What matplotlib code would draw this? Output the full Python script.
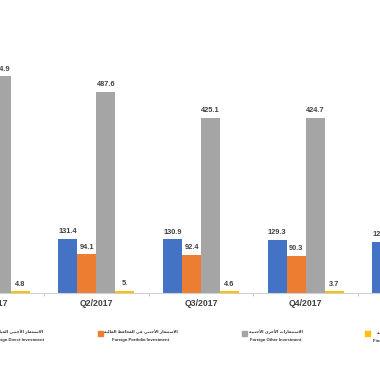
import numpy as np
import matplotlib
matplotlib.use('Agg')
import matplotlib.pyplot as plt
from matplotlib.patches import Rectangle

# Data (the outer groups are only partly visible)
quarters = ['Q1/2017', 'Q2/2017', 'Q3/2017', 'Q4/2017', 'Q1/2018']
direct = [133.2, 131.4, 130.9, 129.3, 124.3]
portfolio = [95.7, 94.1, 92.4, 90.3, 88.5]
other = [524.9, 487.6, 425.1, 424.7, 430.2]
derivatives = [4.8, 5.0, 4.6, 3.7, 3.9]
derivative_labels = ['4.8', '5.', '4.6', '3.7', '3.9']

names_ar = ['الاستثمار الأجنبي المباشر',
            'الاستثمار الأجنبي في المحافظ المالية',
            'الاستثمارات الأخرى الأجنبية',
            'المشتقات المالية']
names_en = ['Foreign Direct Investment',
            'Foreign Portfolio Investment',
            'Foreign Other Investment',
            'Financial Derivatives']
colors = ['#4472C4', '#ED7D31', '#A5A5A5', '#FFC000']

# --- minimal arabic shaping (matplotlib has no text shaping) ---
# letter: (isolated, final, initial, medial)
FORMS = {
    'ا': (0xFE8D, 0xFE8E, None, None), 'أ': (0xFE83, 0xFE84, None, None),
    'إ': (0xFE87, 0xFE88, None, None), 'آ': (0xFE81, 0xFE82, None, None),
    'ب': (0xFE8F, 0xFE90, 0xFE91, 0xFE92), 'ة': (0xFE93, 0xFE94, None, None),
    'ت': (0xFE95, 0xFE96, 0xFE97, 0xFE98), 'ث': (0xFE99, 0xFE9A, 0xFE9B, 0xFE9C),
    'ج': (0xFE9D, 0xFE9E, 0xFE9F, 0xFEA0), 'ح': (0xFEA1, 0xFEA2, 0xFEA3, 0xFEA4),
    'خ': (0xFEA5, 0xFEA6, 0xFEA7, 0xFEA8), 'د': (0xFEA9, 0xFEAA, None, None),
    'ر': (0xFEAD, 0xFEAE, None, None), 'س': (0xFEB1, 0xFEB2, 0xFEB3, 0xFEB4),
    'ش': (0xFEB5, 0xFEB6, 0xFEB7, 0xFEB8), 'ظ': (0xFEC5, 0xFEC6, 0xFEC7, 0xFEC8),
    'ف': (0xFED1, 0xFED2, 0xFED3, 0xFED4), 'ق': (0xFED5, 0xFED6, 0xFED7, 0xFED8),
    'ل': (0xFEDD, 0xFEDE, 0xFEDF, 0xFEE0), 'م': (0xFEE1, 0xFEE2, 0xFEE3, 0xFEE4),
    'ن': (0xFEE5, 0xFEE6, 0xFEE7, 0xFEE8), 'ه': (0xFEE9, 0xFEEA, 0xFEEB, 0xFEEC),
    'و': (0xFEED, 0xFEEE, None, None), 'ى': (0xFEEF, 0xFEF0, None, None),
    'ي': (0xFEF1, 0xFEF2, 0xFEF3, 0xFEF4),
}
LAM_ALEF = {'ا': (0xFEFB, 0xFEFC), 'أ': (0xFEF7, 0xFEF8),
            'إ': (0xFEF9, 0xFEFA), 'آ': (0xFEF5, 0xFEF6)}


def shape_ar(text):
    units = []
    i = 0
    while i < len(text):
        c = text[i]
        if c == 'ل' and i + 1 < len(text) and text[i + 1] in LAM_ALEF:
            units.append(('LA', text[i + 1]))
            i += 2
        else:
            units.append(c)
            i += 1

    def joins_next(u):
        return isinstance(u, str) and u in FORMS and FORMS[u][2] is not None

    def is_letter(u):
        return isinstance(u, tuple) or u in FORMS

    out = []
    for k, u in enumerate(units):
        prev = units[k - 1] if k > 0 else None
        nxt = units[k + 1] if k + 1 < len(units) else None
        jp = prev is not None and joins_next(prev)
        if isinstance(u, tuple):
            out.append(chr(LAM_ALEF[u[1]][1 if jp else 0]))
            continue
        if u not in FORMS:
            out.append(u)
            continue
        iso, fin, ini, med = FORMS[u]
        jn = ini is not None and nxt is not None and is_letter(nxt)
        if jp and jn:
            out.append(chr(med))
        elif jp:
            out.append(chr(fin))
        elif jn:
            out.append(chr(ini))
        else:
            out.append(chr(iso))
    return ''.join(reversed(out))


fig = plt.figure(figsize=(3.8, 3.72), dpi=100)
# the picture is a crop of a wider chart: the axes run past both figure edges
px0, px_step = -8.3, 104.7      # pixel x of the first group, pixels per group
xlo, xhi = -0.5, 4.5
ax_left = px0 + xlo * px_step
ax_width = (xhi - xlo) * px_step
ax = fig.add_axes([ax_left / 380, 79 / 372, ax_width / 380, 293 / 372])

x = np.arange(len(quarters))
bw = 0.1815
series = [direct, portfolio, other, derivatives]
lab_color = '#404040'
for k, vals in enumerate(series):
    pos = x + (k - 1.5) * bw
    ax.bar(pos, vals, width=bw, color=colors[k], zorder=2)
    for j, (p, v) in enumerate(zip(pos, vals)):
        txt = derivative_labels[j] if k == 3 else f'{v:.1f}'
        ax.annotate(txt, (p, v), xytext=(0, 2.5), textcoords='offset points',
                    ha='center', va='bottom', fontsize=5.3, fontweight='bold',
                    color=lab_color, family='Liberation Sans', annotation_clip=False)

for s in ['top', 'left', 'right']:
    ax.spines[s].set_visible(False)
ax.spines['bottom'].set_color('#d0d0d0')
ax.spines['bottom'].set_linewidth(0.8)
ax.set_yticks([])
ax.set_xticks(x[:-1] + 0.5)
ax.set_xticklabels([])
ax.tick_params(axis='x', which='major', length=2, color='#c0c0c0', width=0.6)
ax.set_xticks(x, minor=True)
ax.set_xticklabels(quarters, minor=True, fontsize=6.3, fontweight='bold',
                   color=lab_color, family='Liberation Sans')
ax.tick_params(axis='x', which='minor', length=0, pad=4)
# limits last, set_xticks would widen them otherwise
ax.set_xlim(xlo, xhi)
ax.set_ylim(0, 710)

# legend drawn by hand (squares + two-line labels)
sq_x = [-12, 100, 244, 367]
txt_cx = [18, 141, 276, 394]
sq = 5
for k in range(4):
    fig.add_artist(Rectangle(((sq_x[k] - sq / 2) / 380, 1 - (333 + sq / 2) / 372),
                             sq / 380, sq / 372, transform=fig.transFigure,
                             color=colors[k]))
    fig.text(txt_cx[k] / 380, 1 - 332 / 372, shape_ar(names_ar[k]), ha='center',
             va='center', fontsize=2.9, fontweight='bold', color='#333333',
             family='DejaVu Sans')
    fig.text(txt_cx[k] / 380, 1 - 340.5 / 372, names_en[k], ha='center',
             va='center', fontsize=3.1, fontweight='bold', color='#333333',
             family='Liberation Sans')

fig.savefig('out.png', dpi=100)
